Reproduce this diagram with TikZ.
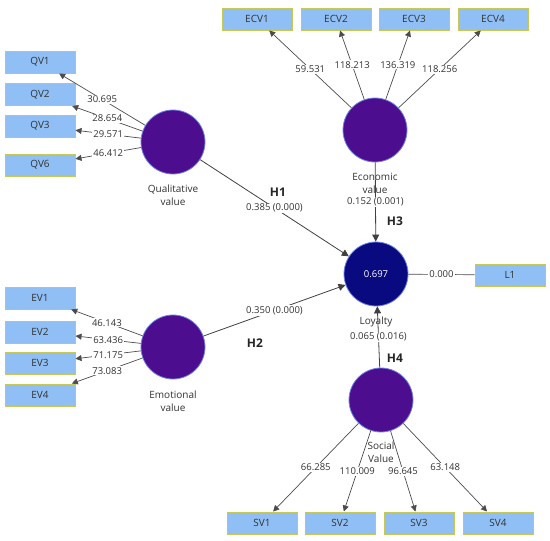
\documentclass[tikz,border=0pt]{standalone}
\usepackage{fontspec}
\setmainfont{Open Sans}
\usetikzlibrary{arrows.meta}
\definecolor{boxfill}{RGB}{143,191,245}
\definecolor{boxborder}{RGB}{200,200,85}
\definecolor{lvpurple}{RGB}{76,14,143}
\definecolor{lvblue}{RGB}{10,10,128}
\definecolor{lvborder}{RGB}{110,130,230}
\definecolor{txt}{RGB}{50,50,50}
\begin{document}
\begin{tikzpicture}[x=1pt,y=-1pt,
  ind/.style={draw=boxborder, fill=boxfill, line width=1pt, minimum width=70pt, minimum height=22pt, inner sep=0pt, font=\fontsize{10}{11}\selectfont, text=txt},
  lv/.style={circle, draw=lvborder, fill=lvpurple, line width=0.8pt, minimum size=64pt, inner sep=0pt},
  lvname/.style={align=center, font=\fontsize{10}{13}\selectfont, text=txt, inner sep=0pt},
  lbl/.style={fill=white, inner sep=1pt, font=\fontsize{9.5}{11}\selectfont, text=txt},
  hyp/.style={font=\fontsize{12}{14}\selectfont\bfseries, text=black!85},
  ld/.style={draw=black!70, line width=0.7pt, -{Triangle[length=6pt,width=6pt]}},
  pl/.style={draw=black!75, line width=0.8pt, -{Triangle[length=7pt,width=7pt]}}
]
\useasboundingbox (0,0) rectangle (550,541);
% indicator boxes
\node[ind] (qv1) at (40,62) {QV1};
\node[ind] (qv2) at (40,94.5) {QV2};
\node[ind] (qv3) at (40,126) {QV3};
\node[ind] (qv6) at (40,165) {QV6};
\node[ind] (ev1) at (40,298) {EV1};
\node[ind] (ev2) at (40,332) {EV2};
\node[ind] (ev3) at (40,363) {EV3};
\node[ind] (ev4) at (40,395) {EV4};
\node[ind] (ecv1) at (257,19) {ECV1};
\node[ind] (ecv2) at (336,19) {ECV2};
\node[ind] (ecv3) at (414,19) {ECV3};
\node[ind] (ecv4) at (493,19) {ECV4};
\node[ind] (sv1) at (262,523) {SV1};
\node[ind] (sv2) at (340,523) {SV2};
\node[ind] (sv3) at (419,523) {SV3};
\node[ind] (sv4) at (498,523) {SV4};
\node[ind] (l1) at (510,275) {L1};
% latent variables
\node[lv] (q) at (173,142) {};
\node[lv] (e) at (173,347) {};
\node[lv] (ec) at (375,130) {};
\node[lv] (s) at (381,400) {};
\node[lv, fill=lvblue, text=white, font=\fontsize{9.5}{11}\selectfont] (l) at (376,274) {0.697};
% latent names
\node[lvname, anchor=north] (qn) at (173,185) {Qualitative\\value};
\node[lvname, anchor=north] (en) at (173,391) {Emotional\\value};
\node[lvname, anchor=north] (ecn) at (375,173) {Economic\\value};
\node[lvname, anchor=north] (sn) at (381,442) {Social\\Value};
\node[lvname, anchor=north] (ln) at (376,317) {Loyalty};
% outer loadings
\draw[ld] (q) -- node[lbl]{30.695} (qv1);
\draw[ld] (q) -- node[lbl]{28.654} (qv2);
\draw[ld] (q) -- node[lbl]{29.571} (qv3);
\draw[ld] (q) -- node[lbl]{46.412} (qv6);
\draw[ld] (e) -- node[lbl]{46.143} (ev1);
\draw[ld] (e) -- node[lbl]{63.436} (ev2);
\draw[ld] (e) -- node[lbl]{71.175} (ev3);
\draw[ld] (e) -- node[lbl]{73.083} (ev4);
\draw[ld] (ec) -- node[lbl]{59.531} (ecv1);
\draw[ld] (ec) -- node[lbl]{118.213} (ecv2);
\draw[ld] (ec) -- node[lbl]{136.319} (ecv3);
\draw[ld] (ec) -- node[lbl]{118.256} (ecv4);
\draw[ld] (s) -- node[lbl]{66.285} (sv1);
\draw[ld] (s) -- node[lbl]{110.009} (sv2);
\draw[ld] (s) -- node[lbl]{96.645} (sv3);
\draw[ld] (s) -- node[lbl]{63.148} (sv4);
\draw[draw=black!70, line width=0.7pt] (l) -- node[lbl]{0.000} (l1);
% structural paths
\draw[pl] (q) -- node[lbl]{0.385 (0.000)} (l);
\draw[pl] (e) -- node[lbl]{0.350 (0.000)} (l);
\draw[pl] (ec) -- node[lbl]{0.152 (0.001)} (l);
\draw[pl] (s) -- node[lbl]{0.065 (0.016)} (l);
% hypotheses
\node[hyp] (h1) at (278,192) {H1};
\node[hyp] (h2) at (255,343) {H2};
\node[hyp] (h3) at (395,221) {H3};
\node[hyp] (h4) at (395,358) {H4};
\end{tikzpicture}
\end{document}
